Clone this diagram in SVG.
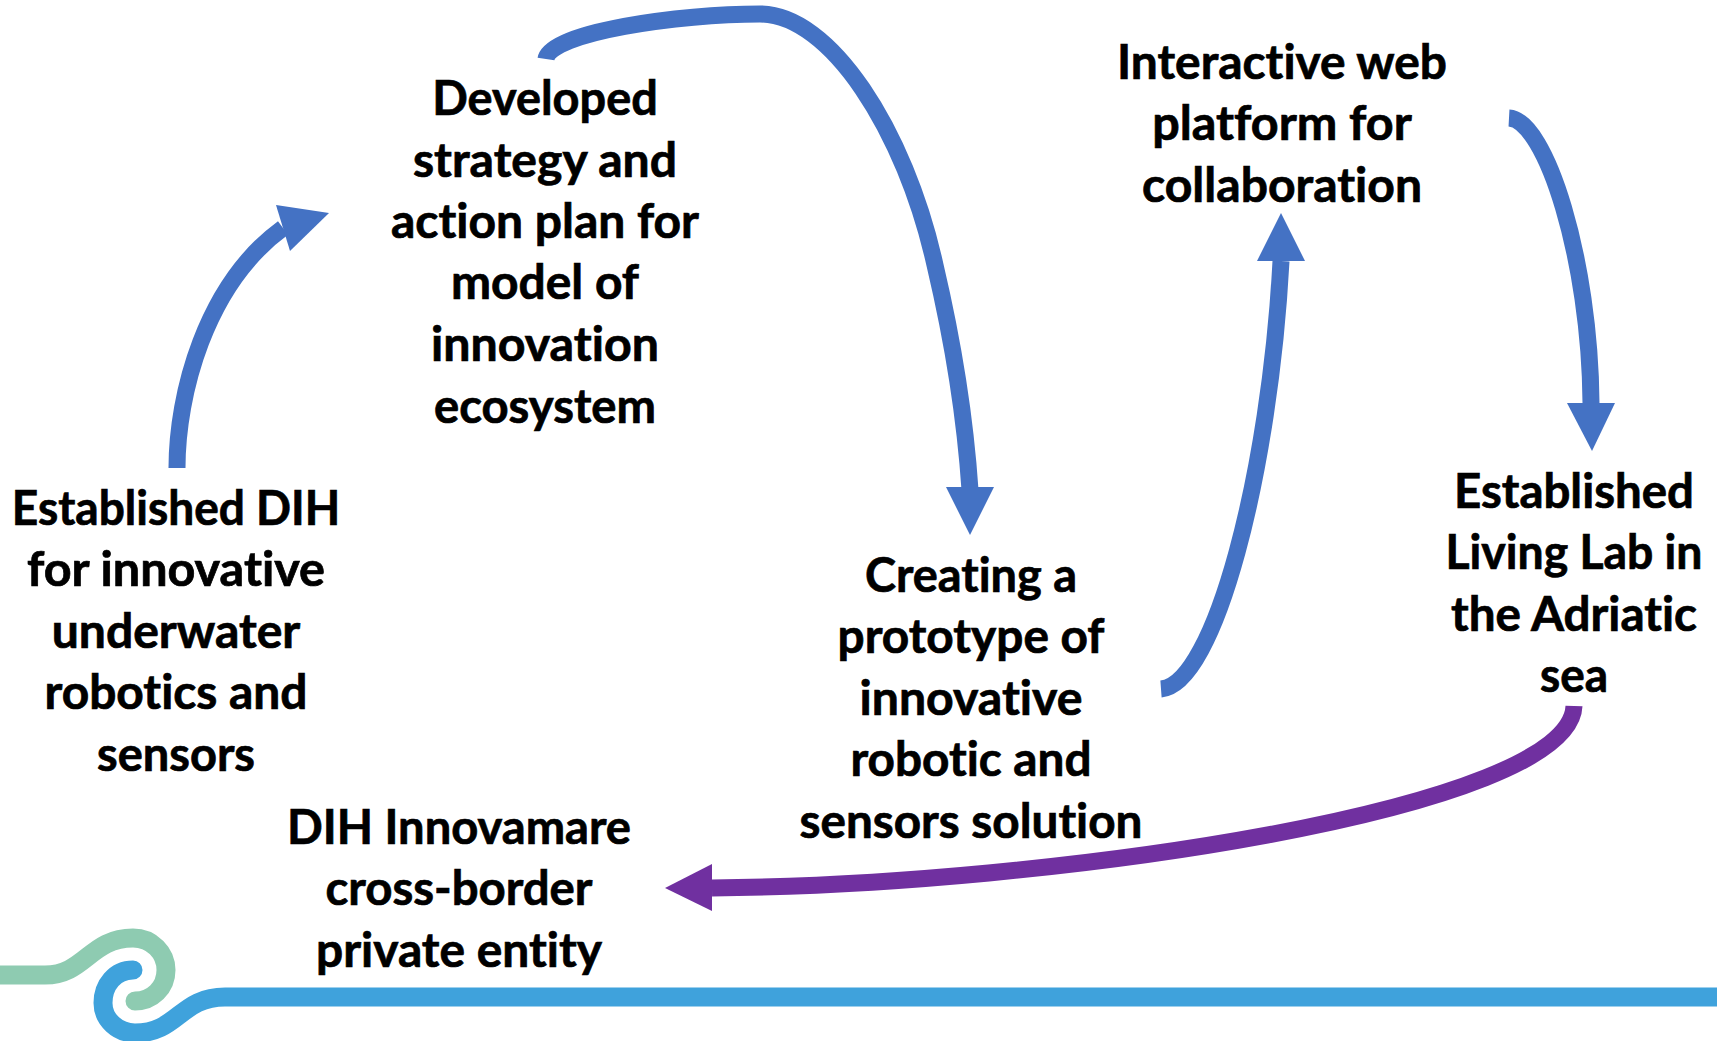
<svg xmlns="http://www.w3.org/2000/svg" width="1717" height="1041" viewBox="0 0 1717 1041">
<style>
text{font-family:"Lato","Carlito","Open Sans",sans-serif;font-weight:700;font-size:47.5px;fill:#000;stroke:#000;stroke-width:.7px;text-anchor:middle;font-variant-ligatures:none}
.b{fill:none;stroke:#4472C4;stroke-width:17}
.p{fill:none;stroke:#7030A0;stroke-width:17}
.hb{fill:#4472C4}
.hp{fill:#7030A0}
</style>
<rect width="1717" height="1041" fill="#fff"/>
<g id="logo" fill="none" stroke-width="19" stroke-linecap="round">
<path stroke="#8ECBB1" d="M-10,975 L45,975 C85,975 90,938 133,938 C152,938 166,953 166,970 C166,988 152,1001 135,1001"/>
<path stroke="#3FA2DC" d="M133,970 C115,970 103,985 103,1003 C103,1020 118,1033 135,1033 C178,1033 180,997 225,997 L1727,997"/>
</g>
<g id="connectors">
<path class="b" d="M177,468 C177,395 205,285 283,228"/>
<polygon class="hb" points="329,213 276,205 290,251"/>
<path class="b" d="M546,59 C550,32 680,14 760,14 C830,14 905,130 935,265 C955,350 966,430 970,490"/>
<polygon class="hb" points="970,535 946,487 994,487"/>
<path class="b" d="M1161,689 C1215,685 1270,470 1281,261"/>
<polygon class="hb" points="1281,213 1257,261 1305,261"/>
<path class="b" d="M1509,118 C1546,120 1590,260 1591,403"/>
<polygon class="hb" points="1592,451 1567,403 1615,403"/>
<path class="p" d="M1574,706 C1570,810 1050,885 712,888"/>
<polygon class="hp" points="665,888 712,864 712,911"/>
</g>
<g id="node1" lengthAdjust="spacingAndGlyphs">
<text x="176" y="525" textLength="328.5" lengthAdjust="spacingAndGlyphs">Established DIH</text>
<text x="176" y="586" textLength="298" lengthAdjust="spacingAndGlyphs">for innovative</text>
<text x="176" y="648" textLength="248.6" lengthAdjust="spacingAndGlyphs">underwater</text>
<text x="176" y="709" textLength="263" lengthAdjust="spacingAndGlyphs">robotics and</text>
<text x="176" y="771" textLength="158" lengthAdjust="spacingAndGlyphs">sensors</text>
</g>
<g id="node2">
<text x="545" y="115" textLength="225.6" lengthAdjust="spacingAndGlyphs">Developed</text>
<text x="545" y="177" textLength="264" lengthAdjust="spacingAndGlyphs">strategy and</text>
<text x="545" y="238" textLength="308" lengthAdjust="spacingAndGlyphs">action plan for</text>
<text x="545" y="299" textLength="188" lengthAdjust="spacingAndGlyphs">model of</text>
<text x="545" y="361" textLength="228" lengthAdjust="spacingAndGlyphs">innovation</text>
<text x="545" y="423" textLength="222" lengthAdjust="spacingAndGlyphs">ecosystem</text>
</g>
<g id="node3">
<text x="971" y="592" textLength="212" lengthAdjust="spacingAndGlyphs">Creating a</text>
<text x="971" y="653" textLength="267" lengthAdjust="spacingAndGlyphs">prototype of</text>
<text x="971" y="715" textLength="223" lengthAdjust="spacingAndGlyphs">innovative</text>
<text x="971" y="776" textLength="241" lengthAdjust="spacingAndGlyphs">robotic and</text>
<text x="971" y="838" textLength="343" lengthAdjust="spacingAndGlyphs">sensors solution</text>
</g>
<g id="node4">
<text x="1282" y="79" textLength="330" lengthAdjust="spacingAndGlyphs">Interactive web</text>
<text x="1282" y="140" textLength="259.5" lengthAdjust="spacingAndGlyphs">platform for</text>
<text x="1282" y="202" textLength="280" lengthAdjust="spacingAndGlyphs">collaboration</text>
</g>
<g id="node5">
<text x="1574" y="508" textLength="240" lengthAdjust="spacingAndGlyphs">Established</text>
<text x="1574" y="569" textLength="257" lengthAdjust="spacingAndGlyphs">Living Lab in</text>
<text x="1574" y="631" textLength="246" lengthAdjust="spacingAndGlyphs">the Adriatic</text>
<text x="1574" y="692" textLength="68" lengthAdjust="spacingAndGlyphs">sea</text>
</g>
<g id="node6">
<text x="459" y="844" textLength="344" lengthAdjust="spacingAndGlyphs">DIH Innovamare</text>
<text x="459" y="905" textLength="267" lengthAdjust="spacingAndGlyphs">cross-border</text>
<text x="459" y="967" textLength="286" lengthAdjust="spacingAndGlyphs">private entity</text>
</g>
</svg>
